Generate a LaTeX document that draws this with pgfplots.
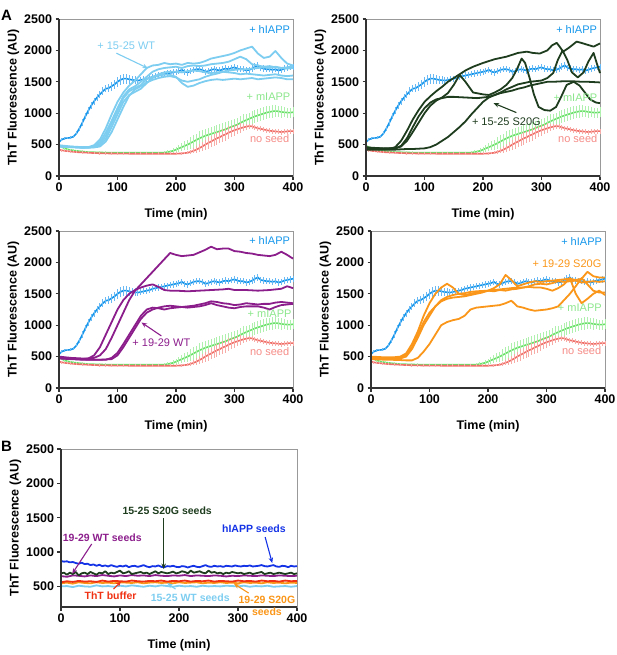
\documentclass[border=0pt]{standalone}
\usepackage{fontspec}
\setmainfont{Liberation Sans}
\usepackage{pgfplots}
\usepackage{pgfplotstable}
\pgfplotsset{compat=1.18}
\usetikzlibrary{arrows.meta}

\definecolor{hblue}{RGB}{20,150,235}
\definecolor{hblueL}{RGB}{105,185,245}
\definecolor{wtblue}{RGB}{125,205,240}
\definecolor{mgreen}{RGB}{105,225,105}
\definecolor{mgreenL}{RGB}{175,240,175}
\definecolor{mgreenT}{RGB}{140,230,140}
\definecolor{nred}{RGB}{240,112,105}
\definecolor{nredL}{RGB}{248,172,168}
\definecolor{nredT}{RGB}{245,140,135}
\definecolor{dgreen}{RGB}{30,60,30}
\definecolor{purp}{RGB}{140,30,140}
\definecolor{orng}{RGB}{250,150,25}
\definecolor{bblue}{RGB}{20,50,230}
\definecolor{tred}{RGB}{240,50,20}

\pgfplotstableread{
x y e
0 540 20
5 580 20
10 600 20
15 605 20
20 610 20
25 630 25
30 680 30
35 760 40
40 850 50
45 950 50
50 1040 60
55 1120 60
60 1190 60
65 1250 60
70 1300 60
75 1350 60
80 1390 60
85 1400 60
90 1430 70
95 1460 70
100 1500 80
105 1530 80
110 1550 80
115 1550 80
120 1540 70
125 1530 60
130 1525 60
135 1520 50
140 1530 50
145 1540 50
150 1550 50
155 1560 50
160 1580 50
165 1590 50
170 1600 50
175 1610 50
180 1620 50
185 1630 50
190 1640 50
195 1650 50
200 1660 50
205 1670 50
210 1690 50
215 1660 50
220 1650 50
225 1670 50
230 1690 50
235 1700 50
240 1700 50
245 1690 50
250 1660 50
255 1670 50
260 1690 50
265 1700 50
270 1690 50
275 1680 50
280 1700 50
285 1710 50
290 1700 50
295 1720 50
300 1730 50
305 1710 50
310 1700 50
315 1700 50
320 1680 50
325 1690 50
330 1710 50
335 1740 60
340 1760 60
345 1720 50
350 1710 50
355 1700 50
360 1700 50
365 1690 50
370 1700 50
375 1680 50
380 1690 50
385 1710 50
390 1720 50
395 1730 50
400 1740 50
}\hdata

\pgfplotstableread{
x y e
0 480 20
5 460 20
10 440 20
15 425 20
20 415 20
25 405 20
30 400 20
35 395 20
40 390 20
45 385 20
50 380 20
60 378 20
70 375 20
80 372 20
90 370 20
100 370 20
110 370 20
120 370 20
130 370 20
140 370 20
150 370 20
160 370 20
170 370 20
180 372 25
185 380 30
190 390 30
195 400 40
200 420 40
205 440 50
210 460 60
215 480 70
220 500 80
225 525 90
230 550 100
235 575 100
240 600 110
245 620 110
250 640 110
255 655 110
260 670 110
265 685 110
270 700 110
275 715 110
280 730 110
285 745 110
290 765 110
295 785 110
300 800 110
305 820 110
310 845 110
315 870 110
320 890 100
325 910 100
330 930 100
335 950 100
340 965 100
345 980 100
350 995 100
355 1010 100
360 1020 100
365 1030 100
370 1035 100
375 1030 90
380 1020 90
385 1015 80
390 1010 80
395 1010 80
400 1015 80
}\mdata

\pgfplotstableread{
x y e
0 420 20
5 410 20
10 400 20
15 395 20
20 390 20
25 385 20
30 380 20
40 375 20
50 370 20
60 365 20
70 362 20
80 360 20
90 358 20
100 357 20
110 356 20
120 355 20
130 355 20
140 355 20
150 355 20
160 355 20
170 355 20
180 355 20
190 355 20
200 355 20
210 360 20
215 365 20
220 370 25
225 385 30
230 400 40
235 420 50
240 445 60
245 470 70
250 500 80
255 525 90
260 550 90
265 575 100
270 600 100
275 620 100
280 645 100
285 665 100
290 690 100
295 710 90
300 730 90
305 745 80
310 760 80
315 775 60
320 785 50
325 795 40
330 790 40
335 775 40
340 760 40
345 750 40
350 740 40
355 730 40
360 720 40
365 715 40
370 710 40
375 705 40
380 700 40
385 705 40
390 710 40
395 715 40
400 715 40
}\ndata

\pgfplotsset{
 panel/.style={
   scale only axis, width=234pt, height=157pt,
   xmin=0, xmax=400, ymin=0, ymax=2500,
   xtick={0,100,200,300,400}, ytick={0,500,1000,1500,2000,2500},
   tick pos=left, tick align=outside,
   major tick length=3.5pt,
   every tick/.append style={black!80, line width=1.3pt},
   axis line style={black!40, line width=0.5pt},
   tick label style={font=\fontsize{12.5}{14}\selectfont\bfseries},
   label style={font=\fontsize{12.5}{14}\selectfont\bfseries},
   /pgf/number format/assume math mode=true,
   /pgf/number format/1000 sep={},
   xlabel={Time (min)}, ylabel={ThT Fluorescence (AU)},
   xlabel shift=10pt, ylabel shift=-2pt,
   clip=false,
 },
}
\tikzset{
 ann/.style={font=\fontsize{11}{12}\selectfont, inner sep=0pt},
 annb/.style={font=\fontsize{10.5}{12}\selectfont\bfseries, inner sep=0pt},
 curve/.style={line width=1.8pt, line join=round},
 arr/.style={line width=1.1pt, -{Stealth[length=5.5pt,width=4.5pt]}},
}

\newcommand{\commoncurves}{%
 \addplot[mgreen, line width=1.6pt, error bars/.cd, y dir=both, y explicit, error bar style={mgreenL, line width=1pt}, error mark=none] table[x=x,y=y,y error=e]{\mdata};
 \addplot[nred, line width=1.6pt, error bars/.cd, y dir=both, y explicit, error bar style={nredL, line width=1pt}, error mark=none] table[x=x,y=y,y error=e]{\ndata};
 \addplot[hblue, line width=1.6pt, error bars/.cd, y dir=both, y explicit, error bar style={hblueL, line width=1pt}, error mark=none] table[x=x,y=y,y error=e]{\hdata};
}
\newcommand{\frameaxes}{%
 \draw[black!80, line width=1.4pt] (rel axis cs:0,1) -- (rel axis cs:0,0) -- (rel axis cs:1,0);
}

\begin{document}
\begin{tikzpicture}[x=1pt,y=1pt]

% ---------------- A1 ----------------
\begin{axis}[panel, at={(59pt,-176pt)}, anchor=south west]
\commoncurves
\addplot[wtblue, curve] coordinates {(0,480) (10,470) (20,465) (30,460) (40,455) (50,460) (60,490) (70,580) (80,760) (90,980) (100,1180) (110,1330) (120,1440) (130,1520) (140,1620) (150,1720) (160,1760) (170,1770) (180,1800) (190,1780) (200,1790) (210,1770) (220,1800) (230,1790) (240,1800) (250,1830) (260,1870) (270,1890) (280,1910) (290,1930) (300,1960) (310,2000) (320,2030) (330,2060) (340,1950) (350,1880) (360,1900) (370,1990) (380,1880) (390,1790) (400,1760)};
\addplot[wtblue, curve] coordinates {(0,470) (10,465) (20,460) (30,455) (40,450) (50,455) (60,470) (70,540) (80,690) (90,880) (100,1080) (110,1270) (120,1380) (130,1430) (140,1500) (150,1580) (160,1660) (170,1700) (180,1720) (190,1730) (200,1740) (210,1720) (220,1750) (230,1760) (240,1750) (250,1760) (260,1780) (270,1790) (280,1800) (290,1820) (300,1860) (310,1900) (320,1860) (330,1780) (340,1760) (350,1740) (360,1750) (370,1730) (380,1720) (390,1710) (400,1720)};
\addplot[wtblue, curve] coordinates {(0,490) (10,480) (20,470) (30,465) (40,460) (50,460) (60,465) (70,510) (80,640) (90,840) (100,1040) (110,1240) (120,1350) (130,1400) (140,1450) (150,1540) (160,1580) (170,1600) (180,1620) (190,1610) (200,1580) (210,1480) (220,1420) (230,1440) (240,1480) (250,1510) (260,1530) (270,1540) (280,1530) (290,1540) (300,1550) (310,1540) (320,1550) (330,1560) (340,1540) (350,1550) (360,1560) (370,1570) (380,1560) (390,1540) (400,1540)};
\addplot[wtblue, curve] coordinates {(0,475) (10,470) (20,465) (30,460) (40,455) (50,455) (60,460) (70,490) (80,590) (90,780) (100,980) (110,1180) (120,1290) (130,1340) (140,1390) (150,1480) (160,1560) (170,1620) (180,1650) (190,1660) (200,1660) (210,1650) (220,1670) (230,1680) (240,1670) (250,1650) (260,1640) (270,1650) (280,1660) (290,1650) (300,1640) (310,1620) (320,1630) (330,1620) (340,1610) (350,1600) (360,1610) (370,1620) (380,1600) (390,1590) (400,1600)};
\addplot[wtblue, curve] coordinates {(0,470) (10,465) (20,460) (30,455) (40,450) (50,450) (60,455) (70,470) (80,550) (90,700) (100,900) (110,1100) (120,1280) (130,1380) (140,1430) (150,1490) (160,1530) (170,1560) (180,1580) (190,1590) (200,1570) (210,1520) (220,1500) (230,1520) (240,1540) (250,1580) (260,1610) (270,1630) (280,1660) (290,1680) (300,1690) (310,1700) (320,1700) (330,1710) (340,1720) (350,1730) (360,1720) (370,1740) (380,1720) (390,1730) (400,1750)};
\frameaxes
\node[ann, text=hblue] at (axis cs:360,2340) {+ hIAPP};
\node[ann, text=mgreenT] at (axis cs:358,1263) {+ mIAPP};
\node[ann, text=nredT] at (axis cs:360,597) {no seed};
\node[ann, text=wtblue] at (axis cs:115,2079) {+ 15-25 WT};
\draw[arr, wtblue] (axis cs:98,1956) -- (axis cs:152,1716);
\end{axis}

% ---------------- A2 ----------------
\begin{axis}[panel, at={(366pt,-176pt)}, anchor=south west]
\commoncurves
\addplot[dgreen, curve] coordinates {(0,450) (10,445) (20,440) (30,435) (40,430) (50,460) (60,560) (70,720) (80,900) (90,1050) (100,1180) (110,1270) (120,1350) (130,1420) (140,1500) (150,1560) (160,1620) (170,1680) (183,1740) (200,1800) (210,1830) (220,1860) (230,1880) (240,1900) (250,1930) (260,1960) (275,1980) (285,1960) (297,1950) (310,2000) (318,2080) (326,2120) (331,2060) (337,1980) (348,2050) (360,2140) (368,2120) (375,2100) (389,2060) (400,2110)};
\addplot[dgreen, curve] coordinates {(0,460) (10,450) (20,445) (30,440) (40,440) (50,440) (60,470) (70,560) (80,700) (90,850) (100,1000) (110,1120) (120,1200) (130,1250) (140,1320) (150,1450) (160,1610) (170,1500) (183,1330) (200,1300) (210,1290) (220,1330) (230,1380) (240,1450) (250,1560) (258,1700) (266,1870) (272,1800) (280,1550) (287,1300) (295,1100) (305,1050) (315,1040) (325,1100) (333,1250) (343,1450) (355,1500) (365,1440) (375,1320) (383,1220) (393,1170) (400,1160)};
\addplot[dgreen, curve] coordinates {(0,440) (10,440) (20,438) (30,435) (40,440) (50,440) (60,480) (70,600) (80,780) (90,950) (100,1080) (110,1170) (120,1220) (130,1240) (140,1260) (150,1260) (160,1255) (170,1250) (180,1245) (190,1240) (200,1250) (210,1260) (220,1290) (230,1320) (240,1340) (250,1360) (260,1390) (270,1410) (280,1440) (290,1460) (300,1480) (310,1500) (320,1500) (330,1505) (340,1510) (350,1510) (360,1505) (370,1500) (380,1500) (390,1495) (400,1490)};
\addplot[dgreen, curve] coordinates {(0,420) (10,420) (20,418) (30,420) (40,420) (50,420) (60,425) (70,430) (80,430) (90,435) (100,440) (110,460) (120,500) (130,560) (140,620) (150,700) (160,780) (170,870) (180,980) (190,1080) (200,1180) (210,1250) (220,1290) (230,1330) (240,1380) (250,1420) (260,1460) (270,1480) (280,1500) (290,1510) (300,1520) (310,1560) (320,1640) (328,1850) (336,2000) (344,1850) (352,1650) (362,1570) (372,1650) (380,1820) (389,1960) (395,1780) (400,1640)};
\frameaxes
\node[ann, text=hblue] at (axis cs:360,2340) {+ hIAPP};
\node[ann, text=mgreenT] at (axis cs:358,1252) {+ mIAPP};
\node[ann, text=nredT] at (axis cs:362,597) {no seed};
\node[ann, text=dgreen] at (axis cs:240,860) {+ 15-25 S20G};
\draw[arr, dgreen] (axis cs:257,1010) -- (axis cs:218,1160);
\end{axis}

% ---------------- A3 ----------------
\begin{axis}[panel, at={(59pt,-388pt)}, anchor=south west]
\commoncurves
\addplot[purp, curve] coordinates {(0,500) (10,490) (20,480) (30,475) (40,470) (50,470) (60,480) (70,520) (80,620) (90,800) (100,1000) (110,1200) (120,1400) (130,1550) (140,1650) (150,1750) (160,1850) (170,1950) (180,2050) (190,2150) (200,2120) (210,2100) (220,2110) (230,2120) (240,2160) (250,2200) (260,2250) (270,2210) (280,2220) (290,2220) (300,2180) (310,2170) (320,2150) (330,2140) (340,2120) (350,2110) (360,2100) (370,2120) (380,2170) (390,2120) (400,2060)};
\addplot[purp, curve] coordinates {(0,480) (10,475) (20,470) (30,465) (40,460) (50,470) (60,520) (70,650) (80,850) (90,1050) (100,1250) (110,1400) (120,1500) (130,1560) (140,1600) (150,1630) (160,1650) (170,1610) (180,1560) (190,1550) (200,1550) (220,1540) (240,1550) (260,1560) (280,1570) (290,1580) (300,1560) (320,1560) (340,1550) (360,1560) (380,1580) (390,1620) (400,1590)};
\addplot[purp, curve] coordinates {(0,480) (10,470) (20,465) (30,460) (40,455) (50,450) (60,450) (70,450) (80,450) (90,480) (100,560) (110,700) (120,850) (130,1000) (140,1150) (150,1250) (160,1280) (170,1270) (180,1250) (190,1270) (200,1280) (210,1290) (220,1300) (230,1310) (240,1330) (250,1350) (260,1380) (270,1370) (280,1350) (290,1340) (300,1320) (310,1330) (320,1350) (330,1340) (340,1330) (350,1340) (360,1340) (370,1360) (380,1370) (390,1360) (400,1350)};
\addplot[purp, curve] coordinates {(0,470) (10,465) (20,460) (30,455) (40,450) (50,450) (60,450) (70,450) (80,455) (90,460) (100,520) (110,650) (120,800) (130,950) (140,1100) (150,1200) (160,1250) (170,1280) (180,1300) (190,1310) (200,1300) (210,1290) (220,1280) (230,1290) (240,1300) (250,1320) (260,1350) (270,1320) (280,1300) (290,1280) (300,1270) (310,1290) (320,1300) (330,1300) (340,1300) (350,1280) (360,1250) (370,1290) (380,1320) (390,1330) (400,1340)};
\frameaxes
\node[ann, text=hblue] at (axis cs:360,2346) {+ hIAPP};
\node[ann, text=mgreenT] at (axis cs:360,1176) {+ mIAPP};
\node[ann, text=nredT] at (axis cs:360,585) {no seed};
\node[ann, text=purp] at (axis cs:175,718) {+ 19-29 WT};
\draw[arr, purp] (axis cs:175,830) -- (axis cs:141,1043);
\end{axis}

% ---------------- A4 ----------------
\begin{axis}[panel, at={(371pt,-388pt)}, anchor=south west]
\commoncurves
\addplot[orng, curve] coordinates {(0,500) (10,495) (20,490) (30,490) (40,490) (50,500) (60,550) (70,700) (80,900) (90,1150) (100,1350) (110,1500) (120,1600) (130,1660) (140,1600) (150,1500) (160,1480) (170,1500) (180,1520) (190,1530) (200,1550) (210,1590) (220,1650) (230,1800) (240,1720) (250,1620) (260,1650) (270,1680) (280,1700) (290,1690) (300,1700) (310,1710) (320,1720) (330,1730) (340,1740) (350,1720) (360,1740) (370,1850) (380,1780) (390,1760) (400,1760)};
\addplot[orng, curve] coordinates {(0,480) (10,480) (20,478) (30,478) (40,480) (50,480) (60,530) (70,650) (80,850) (90,1050) (100,1200) (110,1300) (120,1380) (130,1420) (140,1440) (150,1450) (160,1460) (170,1480) (180,1500) (190,1520) (200,1550) (210,1540) (220,1560) (230,1550) (240,1570) (250,1580) (260,1600) (270,1620) (280,1650) (290,1660) (300,1650) (310,1670) (320,1700) (330,1690) (340,1700) (350,1710) (360,1680) (370,1690) (380,1700) (390,1690) (400,1700)};
\addplot[orng, curve] coordinates {(0,470) (10,470) (20,468) (30,470) (40,470) (50,470) (60,500) (70,620) (80,800) (90,1000) (100,1150) (110,1300) (120,1400) (130,1450) (140,1480) (150,1500) (160,1510) (170,1530) (180,1540) (190,1545) (200,1550) (210,1560) (220,1570) (230,1580) (240,1590) (250,1600) (260,1600) (270,1610) (280,1600) (290,1600) (300,1580) (310,1550) (320,1590) (330,1650) (340,1750) (350,1500) (360,1350) (370,1420) (380,1500) (390,1550) (400,1480)};
\addplot[orng, curve] coordinates {(0,460) (10,455) (20,452) (30,450) (40,448) (50,445) (60,440) (70,440) (80,480) (90,580) (100,700) (110,850) (120,1000) (130,1050) (140,1080) (150,1100) (160,1150) (170,1250) (180,1280) (190,1290) (200,1300) (210,1310) (220,1320) (230,1350) (240,1390) (250,1300) (260,1280) (270,1250) (280,1230) (290,1240) (300,1250) (310,1270) (320,1300) (330,1400) (340,1500) (350,1620) (360,1750) (370,1650) (380,1550) (390,1520) (400,1520)};
\frameaxes
\node[ann, text=hblue] at (axis cs:360,2340) {+ hIAPP};
\node[ann, text=orng] at (axis cs:335,1984) {+ 19-29 S20G};
\node[ann, text=mgreenT] at (axis cs:357,1277) {+ mIAPP};
\node[ann, text=nredT] at (axis cs:360,601) {no seed};
\end{axis}

% ---------------- B ----------------
\begin{axis}[panel, width=236pt, height=158pt, ymin=200, ytick={500,1000,1500,2000,2500}, at={(61pt,-607pt)}, anchor=south west]
\addplot[wtblue, curve] coordinates {(0,500) (10,505) (20,490) (30,510) (40,500) (50,495) (60,515) (70,500) (80,505) (90,495) (100,510) (110,500) (120,515) (130,505) (140,495) (150,510) (160,500) (170,515) (180,505) (190,495) (200,510) (210,500) (220,505) (230,495) (240,510) (250,500) (260,505) (270,500) (280,510) (290,505) (300,500) (310,510) (320,495) (330,505) (340,500) (350,510) (360,495) (370,500) (380,505) (390,495) (400,505)};
\addplot[orng, curve] coordinates {(0,545) (10,555) (20,540) (30,560) (40,550) (50,545) (60,560) (70,550) (80,555) (90,545) (100,560) (110,555) (120,550) (130,560) (140,545) (150,555) (160,560) (170,550) (180,555) (190,545) (200,560) (210,550) (220,555) (230,560) (240,545) (250,555) (260,550) (270,560) (280,550) (290,555) (300,545) (310,560) (320,550) (330,555) (340,545) (350,560) (360,550) (370,555) (380,545) (390,555) (400,550)};
\addplot[tred, curve] coordinates {(0,560) (10,575) (20,565) (30,580) (40,570) (50,575) (60,565) (70,585) (80,570) (90,580) (100,575) (110,570) (120,585) (130,575) (140,570) (150,580) (160,575) (170,585) (180,570) (190,580) (200,575) (210,585) (220,570) (230,580) (240,575) (250,585) (260,570) (270,580) (280,575) (290,570) (300,585) (310,575) (320,580) (330,570) (340,585) (350,575) (360,580) (370,570) (380,585) (390,575) (400,580)};
\addplot[purp, curve] coordinates {(0,650) (10,640) (20,660) (30,655) (40,645) (50,660) (60,650) (70,665) (80,655) (90,645) (100,660) (110,650) (120,665) (130,655) (140,660) (150,650) (160,665) (170,655) (180,650) (190,660) (200,655) (210,665) (220,650) (230,660) (240,655) (250,650) (260,660) (270,655) (280,645) (290,655) (300,650) (310,660) (320,655) (330,650) (340,660) (350,655) (360,650) (370,660) (380,655) (390,650) (400,655)};
\addplot[dgreen, curve] coordinates {(0,690) (5,700) (10,670) (15,700) (20,680) (25,710) (30,660) (35,690) (40,700) (45,680) (50,710) (55,690) (60,670) (65,700) (70,690) (75,720) (80,680) (85,700) (90,690) (95,710) (100,730) (105,690) (110,700) (115,720) (120,680) (125,690) (130,700) (135,710) (140,690) (145,700) (150,680) (155,700) (160,720) (165,690) (170,710) (175,700) (180,690) (185,700) (190,715) (195,690) (200,700) (205,720) (210,710) (215,690) (220,730) (225,700) (230,710) (235,720) (240,700) (245,690) (250,730) (255,700) (260,710) (265,690) (270,700) (275,680) (280,700) (285,690) (290,710) (295,700) (300,690) (305,700) (310,680) (315,690) (320,700) (325,680) (330,690) (335,700) (340,710) (345,680) (350,690) (355,700) (360,680) (365,690) (370,700) (375,690) (380,680) (385,690) (390,700) (395,680) (400,690)};
\addplot[bblue, curve] coordinates {(0,870) (5,860) (10,865) (15,850) (20,855) (25,840) (30,830) (35,845) (40,825) (45,830) (50,810) (55,820) (60,800) (65,815) (70,795) (75,805) (80,790) (85,810) (90,795) (95,785) (100,800) (105,790) (110,805) (115,780) (120,795) (125,800) (130,785) (135,795) (140,810) (145,790) (150,780) (155,795) (160,790) (165,805) (170,785) (175,780) (180,795) (185,790) (190,800) (195,785) (200,780) (205,795) (210,790) (215,775) (220,790) (225,800) (230,785) (235,780) (240,795) (245,810) (250,790) (255,785) (260,800) (265,790) (270,795) (275,785) (280,800) (285,795) (290,790) (295,805) (300,795) (305,790) (310,800) (315,795) (320,805) (325,790) (330,795) (335,800) (340,810) (345,795) (350,790) (355,800) (360,810) (365,790) (370,785) (375,800) (380,795) (385,780) (390,800) (395,790) (400,795)};
\frameaxes
\node[annb, text=dgreen] at (axis cs:180,1600) {15-25 S20G seeds};
\draw[arr, dgreen] (axis cs:174,1495) -- (axis cs:174,752);
\node[annb, text=bblue] at (axis cs:327,1340) {hIAPP seeds};
\draw[arr, bblue] (axis cs:346,1218) -- (axis cs:358,840);
\node[annb, text=purp] at (axis cs:70,1214) {19-29 WT seeds};
\draw[arr, purp] (axis cs:52,1117) -- (axis cs:19,684);
\node[annb, text=tred] at (axis cs:84,369) {ThT buffer};
\draw[arr, tred] (axis cs:89,461) -- (axis cs:102,573);
\node[annb, text=wtblue] at (axis cs:219,330) {15-25 WT seeds};
\draw[arr, wtblue] (axis cs:194,461) -- (axis cs:180,549);
\node[annb, text=orng, align=center] at (axis cs:349,213) {19-29 S20G\\seeds};
\draw[arr, orng] (axis cs:318,403) -- (axis cs:293,539);
\end{axis}

\node[anchor=base west, font=\bfseries\fontsize{15}{16}\selectfont, inner sep=0pt] at (1pt,-20.5pt) {A};
\node[anchor=base west, font=\bfseries\fontsize{15}{16}\selectfont, inner sep=0pt] at (1pt,-451pt) {B};

\pgfresetboundingbox
\path (0pt,0pt) rectangle (617pt,-655pt);
\end{tikzpicture}
\end{document}
